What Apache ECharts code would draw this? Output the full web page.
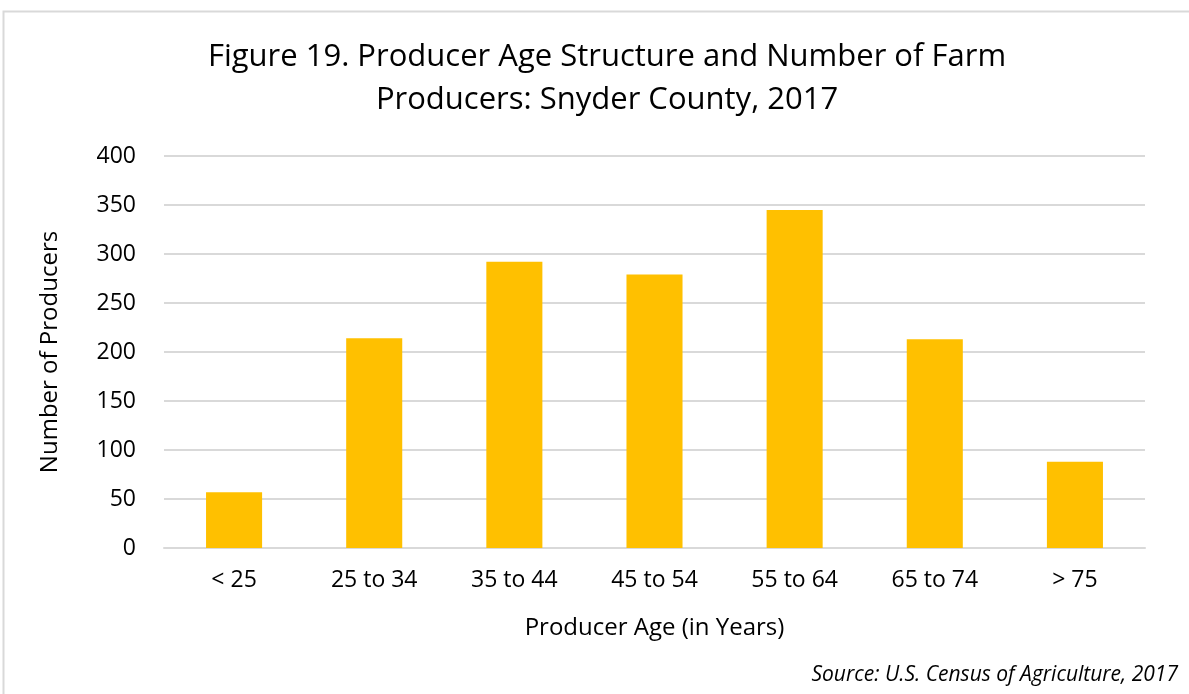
<!DOCTYPE html>
<html>
<head>
<meta charset="utf-8">
<script src="https://cdn.jsdelivr.net/npm/echarts@6/dist/echarts.min.js"></script>
<style>
html,body{margin:0;padding:0;background:#fff;}
#chart{width:1189px;height:694px;}
</style>
</head>
<body>
<div id="chart"></div>
<script>
const categories = ['< 25', '25 to 34', '35 to 44', '45 to 54', '55 to 64', '65 to 74', '> 75'];
const producers = [57, 214, 292, 279, 345, 213, 88];
const yTicks = [0, 50, 100, 150, 200, 250, 300, 350, 400];

const FONT = '"Open Sans", "Noto Sans", sans-serif';
const chart = echarts.init(document.getElementById('chart'));
chart.setOption({
  animation: false,
  backgroundColor: '#fff',
  title: {
    text: 'Figure 19. Producer Age Structure and Number of Farm\nProducers: Snyder County, 2017',
    left: 602,
    top: 31,
    textAlign: 'center',
    textStyle: { fontFamily: FONT, fontSize: 31, fontWeight: 'normal', color: '#000', lineHeight: 43 }
  },
  graphic: [
    { type: 'rect', shape: { x: 3.5, y: 11.5, width: 1200, height: 700 }, style: { fill: 'none', stroke: '#d9d9d9', lineWidth: 2 }, z: -1 },
    { type: 'text', right: 11, top: 665, style: { text: 'Source: U.S. Census of Agriculture, 2017', font: 'italic 21px ' + FONT, fill: '#000' } }
  ],
  grid: { left: 164, right: 44, top: 156, bottom: 146 },
  xAxis: {
    type: 'category',
    data: categories,
    axisLine: { lineStyle: { color: '#d9d9d9', width: 2 } },
    axisTick: { show: false },
    axisLabel: { fontFamily: FONT, fontSize: 23, color: '#000', margin: 21 },
    name: 'Producer Age (in Years)',
    nameLocation: 'middle',
    nameGap: 68,
    nameTextStyle: { fontFamily: FONT, fontSize: 24, color: '#000' }
  },
  yAxis: {
    type: 'value',
    min: yTicks[0],
    max: yTicks[yTicks.length - 1],
    interval: yTicks[1] - yTicks[0],
    axisLine: { show: false },
    axisTick: { show: false },
    splitLine: { lineStyle: { color: '#d9d9d9', width: 2 } },
    axisLabel: { fontFamily: FONT, fontSize: 23, color: '#000', margin: 28 },
    name: 'Number of Producers',
    nameLocation: 'middle',
    nameGap: 102,
    nameTextStyle: { fontFamily: FONT, fontSize: 24, color: '#000' }
  },
  series: [{
    type: 'bar',
    data: producers,
    barWidth: '40%',
    itemStyle: { color: '#FFC000' }
  }]
});
</script>
</body>
</html>
